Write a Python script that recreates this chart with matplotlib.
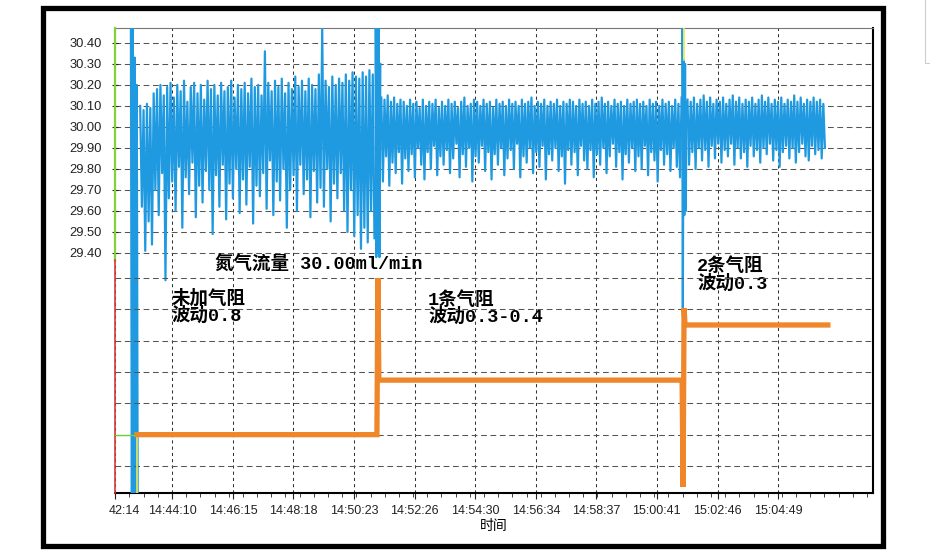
import numpy as np
import matplotlib
matplotlib.use("Agg")
import matplotlib.pyplot as plt
import matplotlib.patches as patches
from matplotlib.ticker import FixedLocator, AutoMinorLocator
from matplotlib.transforms import ScaledTranslation

plt.rcParams['font.family'] = ['Liberation Sans', 'Noto Sans CJK SC']

# time axis (seconds after 14:40:00)
tick_times = ["14:42:14", "14:44:10", "14:46:15", "14:48:18", "14:50:23", "14:52:26",
              "14:54:30", "14:56:34", "14:58:37", "15:00:41", "15:02:46", "15:04:49"]
t_range = (133.5, 1683.3)

spike0_t = (166, 180)
spike0 = [30.50, 28.10, 30.50, 28.10, 30.33, 28.10, 30.20, 28.10]

seg1_t = (185, 664)
seg1 = [30.10, 29.62, 30.08, 29.41, 30.11, 29.55, 30.09, 29.44, 30.16, 29.70, 30.18, 29.58, 30.20, 29.78, 30.15, 29.27, 30.19, 29.66, 30.21, 29.74,
        30.14, 29.60, 30.20, 29.81, 30.17, 29.52, 30.22, 29.76, 30.12, 29.68, 30.19, 29.83, 30.21, 29.57, 30.16, 29.72, 30.20, 29.64, 30.13, 29.79,
        30.22, 29.70, 30.18, 29.49, 30.20, 29.77, 30.15, 29.62, 30.21, 29.82, 30.17, 29.56, 30.19, 29.73, 30.22, 29.66, 30.14, 29.80, 30.20, 29.59,
        30.18, 29.75, 30.21, 29.63, 30.16, 29.81, 30.23, 29.54, 30.19, 29.72, 30.20, 29.67, 30.15, 29.78, 30.36, 29.61, 30.21, 29.84, 30.17, 29.58,
        30.22, 29.74, 30.19, 29.65, 30.23, 29.80, 30.16, 29.52, 30.21, 29.70, 30.18, 29.77, 30.24, 29.60, 30.19, 29.82, 30.22, 29.68, 30.17, 29.75,
        30.23, 29.57, 30.20, 29.79, 30.18, 29.64, 30.25, 29.71, 30.47, 29.62, 30.22, 29.80, 30.19, 29.55, 30.24, 29.73, 30.20, 29.66, 30.23, 29.78,
        30.21, 29.60, 30.25, 29.50, 30.22, 29.70, 30.26, 29.48, 30.24, 29.58, 30.23, 29.42, 30.26, 29.52, 30.24, 29.45, 30.27, 29.60, 30.25, 29.47]

spike1_t = (666, 676)
spike1 = [30.50, 29.38, 30.50, 29.40, 30.50, 29.38, 30.30]

seg2_t = (678, 1292)
seg2 = [30.14, 29.74, 30.13, 29.86, 30.15, 29.72, 30.12, 29.83, 30.14, 29.78, 30.11, 29.88, 30.13, 29.73, 30.12, 29.85, 30.10, 29.79, 30.13, 29.87,
        30.11, 29.76, 30.12, 29.90, 30.09, 29.82, 30.13, 29.75, 30.10, 29.88, 30.12, 29.80, 30.11, 29.91, 30.13, 29.77, 30.09, 29.86, 30.12, 29.82,
        30.10, 29.89, 30.13, 29.78, 30.11, 29.85, 30.12, 29.92, 30.09, 29.76, 30.12, 29.87, 30.14, 29.81, 30.10, 29.90, 30.11, 29.74, 30.13, 29.86,
        30.12, 29.83, 30.10, 29.91, 30.13, 29.79, 30.11, 29.88, 30.12, 29.75, 30.09, 29.87, 30.13, 29.82, 30.11, 29.90, 30.12, 29.77, 30.10, 29.85,
        30.13, 29.89, 30.11, 29.80, 30.12, 29.92, 30.10, 29.76, 30.13, 29.86, 30.11, 29.83, 30.12, 29.90, 30.14, 29.78, 30.10, 29.88, 30.12, 29.81,
        30.11, 29.91, 30.13, 29.75, 30.10, 29.87, 30.12, 29.84, 30.11, 29.90, 30.13, 29.79, 30.10, 29.86, 30.12, 29.73, 30.11, 29.89, 30.13, 29.82,
        30.12, 29.88, 30.10, 29.77, 30.13, 29.91, 30.11, 29.84, 30.12, 29.80, 30.10, 29.89, 30.13, 29.76, 30.11, 29.87, 30.12, 29.82, 30.14, 29.90,
        30.11, 29.78, 30.12, 29.86, 30.10, 29.92, 30.13, 29.81, 30.11, 29.88, 30.12, 29.75, 30.10, 29.87, 30.13, 29.83, 30.11, 29.90, 30.12, 29.79,
        30.13, 29.86, 30.11, 29.80, 30.12, 29.91, 30.10, 29.77, 30.13, 29.88, 30.11, 29.84, 30.12, 29.74, 30.10, 29.89, 30.13, 29.82, 30.11, 29.87,
        30.12, 29.79, 30.10, 29.90, 30.13, 29.81, 30.11, 29.76, 30.14]

spike2_t = (1293, 1302)
spike2 = [30.50, 29.14, 30.32, 29.58, 30.30, 29.60, 30.12]

seg3_t = (1304, 1585)
seg3 = [30.13, 29.82, 30.12, 29.88, 30.14, 29.80, 30.11, 29.90, 30.13, 29.84, 30.15, 29.89, 30.12, 29.81, 30.14, 29.91, 30.11, 29.85, 30.13, 29.92,
        30.12, 29.83, 30.14, 29.89, 30.11, 29.86, 30.13, 29.92, 30.15, 29.82, 30.12, 29.90, 30.14, 29.85, 30.11, 29.88, 30.13, 29.81, 30.12, 29.91,
        30.14, 29.86, 30.11, 29.89, 30.13, 29.83, 30.15, 29.90, 30.12, 29.87, 30.14, 29.92, 30.11, 29.84, 30.13, 29.89, 30.12, 29.81, 30.14, 29.88,
        30.11, 29.91, 30.13, 29.85, 30.12, 29.90, 30.15, 29.83, 30.12, 29.88, 30.14, 29.92, 30.11, 29.86, 30.13, 29.84, 30.12, 29.91, 30.14, 29.87,
        30.12, 29.89, 30.13, 29.85, 30.11, 29.90]

# pressure step trace (unlabelled lower scale)
press_t = [178.5, 669, 671, 673, 1293, 1295, 1297, 1299, 1591]
press = [2.0, 2.0, 7.0, 3.74, 3.74, 0.33, 6.04, 5.50, 5.50]
green_t = [133.5, 174]
green_v = [2.0, 2.0]

flow_ticks = [29.40, 29.50, 29.60, 29.70, 29.80, 29.90, 30.00, 30.10, 30.20, 30.30, 30.40]
press_grid = [1, 2, 3, 4, 5, 6, 7]

texts = [("氮气流量 30.00ml/min", 0.132, 0.490),
         ("未加气阻\n波动0.8", 0.075, 0.400),
         ("1条气阻\n波动0.3-0.4", 0.413, 0.397),
         ("2条气阻\n波动0.3", 0.768, 0.468)]


def to_sec(s):
    h, m, sec = [int(v) for v in s.split(":")]
    return (h - 14) * 3600 + (m - 40) * 60 + sec


fig = plt.figure(figsize=(9.3, 5.59), dpi=100)
ax = fig.add_axes([115 / 930, 66 / 559, 758 / 930, 465 / 559])
ax2 = ax.twinx()

blue = "#1f9ae0"
for (t0, t1), vals in [(spike0_t, spike0), (seg1_t, seg1), (spike1_t, spike1),
                       (seg2_t, seg2), (spike2_t, spike2), (seg3_t, seg3)]:
    tt = np.linspace(t0, t1, len(vals))
    ax.plot(tt, vals, color=blue, lw=1.6, zorder=3)

ax2.plot(press_t, press, color="#f0862a", lw=3.8, solid_joinstyle="miter", zorder=4)
ax2.plot(green_t, green_v, color="#6ccf3a", lw=1.0, zorder=4)
ax2.plot([press_t[0], press_t[0]], [press[0], 0.0], color="#e8e85a", lw=1.2, zorder=3)
ax2.plot([1296, 1296], [14.98, 13.96], color="#e8e85a", lw=1.2, zorder=3)

ax.set_xlim(*t_range)
ax.set_ylim(28.257, 30.471)
ax2.set_ylim(0.137, 14.98)

# x ticks
tick_pos = [to_sec(s) for s in tick_times]
tick_lab = [tick_times[0][3:]] + tick_times[1:]
ax.xaxis.set_major_locator(FixedLocator(tick_pos))
ax.set_xticklabels(tick_lab)
ax.xaxis.set_minor_locator(AutoMinorLocator(4))
ax.tick_params(axis="x", which="major", length=4, direction="out", pad=5, labelsize=9, colors="#222")
ax.tick_params(axis="x", which="minor", length=3, direction="out", colors="#222")
lab0 = ax.get_xticklabels()[0]
lab0.set_transform(lab0.get_transform() + ScaledTranslation(9 / 100, 0, fig.dpi_scale_trans))

ax.set_yticks(flow_ticks)
ax.set_yticklabels([f"{v:.2f}" for v in flow_ticks])
ax.tick_params(axis="y", length=5, direction="inout", pad=7, labelsize=9.3, colors="#222")
ax2.set_yticks(press_grid)
ax2.tick_params(axis="y", length=0, labelright=False)

ax.set_xlabel("时间", fontsize=10, labelpad=1)

# grid
ax.grid(axis="y", color="#555", lw=0.75, ls=(0, (5.5, 3.5)))
ax.grid(axis="x", color="#333", lw=0.75, ls=(0, (3, 3)))
ax2.grid(axis="y", color="#555", lw=0.75, ls=(0, (5.5, 3.5)))
ax.set_axisbelow(True)

# spines
ax.spines["left"].set_color("#86d13a")
ax.spines["left"].set_linewidth(1.6)
ax.spines["left"].set_bounds(29.36, 30.471)
ax.spines["left"].set_zorder(5)
ax.spines["bottom"].set_color("black")
ax.spines["bottom"].set_linewidth(1.5)
ax.spines["right"].set_color("black")
ax.spines["right"].set_linewidth(1.5)
ax.spines["top"].set_color("#777")
for s in ["top", "bottom", "right"]:
    ax2.spines[s].set_visible(False)
ax2.spines["left"].set_visible(True)
ax2.spines["left"].set_color("#d83a3a")
ax2.spines["left"].set_linewidth(1.2)
ax2.spines["left"].set_bounds(0.137, 7.57)

for txt, fx, fy in texts:
    ax.text(fx, fy, txt, transform=ax.transAxes, ha="left", va="center",
            fontsize=13.3, fontweight="bold", linespacing=0.95,
            family=["Liberation Mono", "Noto Sans CJK SC"], zorder=6)

# outer frame of the screen capture
frame = patches.Rectangle((42.5 / 930, 13 / 559), 840.5 / 930, 538.5 / 559,
                          transform=fig.transFigure, fill=False, ec="black", lw=3.8)
fig.patches.append(frame)
box = patches.Rectangle((925 / 930, 496 / 559), 20 / 930, 80 / 559,
                        transform=fig.transFigure, fill=False, ec="#cccccc", lw=0.8)
fig.patches.append(box)

fig.savefig("out.png", dpi=100)
